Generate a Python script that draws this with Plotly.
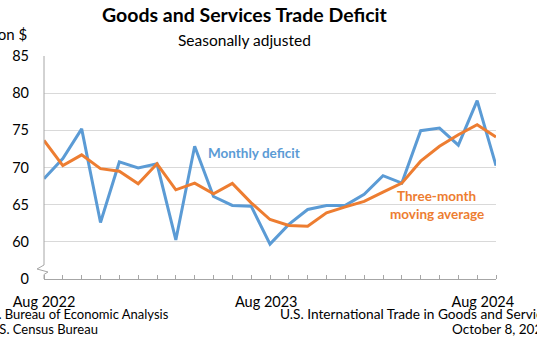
import plotly.graph_objects as go

# ---- data ----
months = ["Aug 2022", "Sep 2022", "Oct 2022", "Nov 2022", "Dec 2022", "Jan 2023",
          "Feb 2023", "Mar 2023", "Apr 2023", "May 2023", "Jun 2023", "Jul 2023",
          "Aug 2023", "Sep 2023", "Oct 2023", "Nov 2023", "Dec 2023", "Jan 2024",
          "Feb 2024", "Mar 2024", "Apr 2024", "May 2024", "Jun 2024", "Jul 2024",
          "Aug 2024"]
monthly_deficit = [68.5, 71.2, 75.2, 62.6, 70.75, 69.95, 70.5, 60.25, 72.85, 66.1,
                   64.9, 64.8, 59.7, 62.35, 64.35, 64.9, 64.9, 66.4, 68.9, 67.9,
                   74.95, 75.3, 73.0, 79.0, 70.25]
moving_avg = [73.65, 70.25, 71.7, 69.85, 69.5, 67.8, 70.5, 67.0, 67.9, 66.45,
              67.85, 65.25, 63.0, 62.2, 62.1, 63.9, 64.7, 65.45, 66.7, 67.9,
              70.85, 72.85, 74.4, 75.75, 74.1]
y_tick_vals = [55, 60, 65, 70, 75, 80, 85]
y_tick_text = ["0", "60", "65", "70", "75", "80", "85"]
x_label_text = ["Aug 2022", "Aug 2023", "Aug 2024"]
x_label_pos = [0, 11.8, 23.3]

W, H = 537, 360
ML, MR, MT, MB = 42, 41, 56, 81
PW, PH = W - ML - MR, H - MT - MB
FONT = "Lato"
BLUE = "#5B9BD5"
ORANGE = "#ED7D31"
AXIS = "#A6A6A6"

def px(xp):
    return (xp - ML) / PW

def py(yp):
    return (H - MB - yp) / PH

idx = list(range(len(months)))

fig = go.Figure()
fig.add_trace(go.Scatter(x=idx, y=monthly_deficit, mode="lines",
                         line=dict(color=BLUE, width=3), name="Monthly deficit",
                         hovertext=months))
fig.add_trace(go.Scatter(x=idx, y=moving_avg, mode="lines",
                         line=dict(color=ORANGE, width=3), name="Three-month moving average",
                         hovertext=months))

# y-axis line with break
pts = [(42, 56), (42, 265), (35, 269), (46, 272), (42, 274.5), (42, 279)]
path = "M " + " L ".join(f"{px(a):.5f},{py(b):.5f}" for a, b in pts)
shapes = [dict(type="path", path=path, xref="paper", yref="paper",
               line=dict(color=AXIS, width=1))]

annotations = [
    dict(text="Goods and Services Trade Deficit", x=px(243), y=py(15), xref="paper", yref="paper",
         showarrow=False, font=dict(family=FONT, size=19.5, color="#000000", weight="bold"),
         xanchor="center", yanchor="middle"),
    dict(text="Seasonally adjusted", x=px(243.5), y=py(40), xref="paper", yref="paper",
         showarrow=False, font=dict(family=FONT, size=15.5, color="#000000"),
         xanchor="center", yanchor="middle"),
    dict(text="Billion $", x=px(27), y=py(34), xref="paper", yref="paper",
         showarrow=False, font=dict(family=FONT, size=15, color="#000000"),
         xanchor="right", yanchor="middle"),
    dict(text="<b>Monthly deficit</b>", x=11.13, y=71.93, xref="x", yref="y",
         showarrow=False, font=dict(family=FONT, size=13.5, color=BLUE),
         xanchor="center", yanchor="middle"),
    dict(text="<b>Three-month</b>", x=20.84, y=66.1, xref="x", yref="y",
         showarrow=False, font=dict(family=FONT, size=13.5, color=ORANGE),
         xanchor="center", yanchor="middle"),
    dict(text="<b>moving average</b>", x=20.85, y=63.77, xref="x", yref="y",
         showarrow=False, font=dict(family=FONT, size=13.5, color=ORANGE),
         xanchor="center", yanchor="middle"),
    dict(text="U.S. Bureau of Economic Analysis", x=px(170), y=py(313.5), xref="paper", yref="paper",
         showarrow=False, font=dict(family=FONT, size=13, color="#000000"),
         xanchor="right", yanchor="middle"),
    dict(text="U.S. Census Bureau", x=px(-17.5), y=py(328.5), xref="paper", yref="paper",
         showarrow=False, font=dict(family=FONT, size=13, color="#000000"),
         xanchor="left", yanchor="middle"),
    dict(text="U.S. International Trade in Goods and Services", x=px(276.7), y=py(313.5),
         xref="paper", yref="paper", showarrow=False,
         font=dict(family=FONT, size=13.7, color="#000000"), xanchor="left", yanchor="middle"),
    dict(text="October 8, 2024", x=px(450), y=py(328.5), xref="paper", yref="paper",
         showarrow=False, font=dict(family=FONT, size=13.5, color="#000000"),
         xanchor="left", yanchor="middle"),
]

fig.update_layout(
    width=W, height=H,
    margin=dict(l=ML, r=MR, t=MT, b=MB, pad=0),
    paper_bgcolor="white", plot_bgcolor="white",
    showlegend=False,
    shapes=shapes, annotations=annotations,
    font=dict(family=FONT, size=14, color="#000000"),
    xaxis=dict(range=[0, 24], showgrid=False, zeroline=False,
               showline=True, linecolor=AXIS, linewidth=1,
               tickmode="array", tickvals=x_label_pos, ticktext=x_label_text,
               ticks="", ticklabelstandoff=10,
               tickfont=dict(family=FONT, size=14.5, color="#000000"),
               minor=dict(tickmode="array", tickvals=idx, ticks="inside",
                          ticklen=4, tickcolor=AXIS, showgrid=False)),
    yaxis=dict(range=[55, 85], showgrid=True, gridcolor="#D9D9D9", gridwidth=1,
               zeroline=False, showline=False,
               tickmode="array", tickvals=y_tick_vals, ticktext=y_tick_text,
               ticks="", ticklabelstandoff=14,
               tickfont=dict(family=FONT, size=14.5, color="#000000")),
)

fig.write_html("out.html", config={"displayModeBar": False},
               post_script="document.body.style.margin='0';document.body.style.overflow='hidden';")
